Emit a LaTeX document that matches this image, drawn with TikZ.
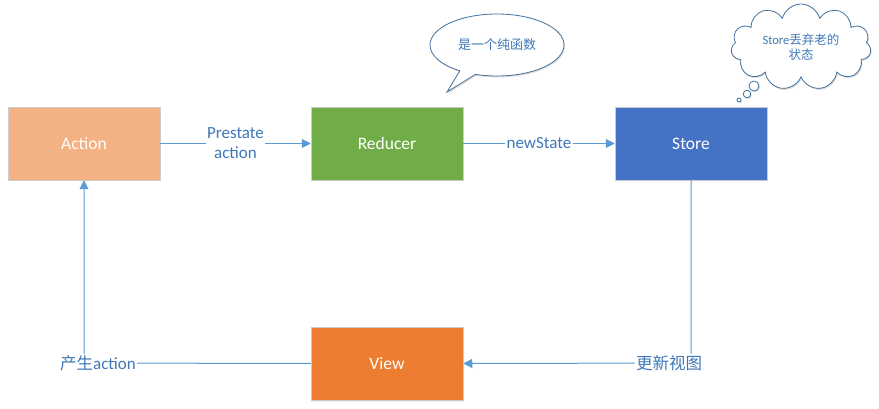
\documentclass[tikz,border=0pt]{standalone}
\usepackage{fontspec}
\setmainfont{Carlito}
\newfontfamily\cjk{Noto Sans CJK SC}
\usetikzlibrary{arrows.meta,shapes.callouts,shapes.symbols,shadows}
\definecolor{cAction}{HTML}{F4B183}
\definecolor{cReducer}{HTML}{70AD47}
\definecolor{cStore}{HTML}{4472C4}
\definecolor{cView}{HTML}{ED7D31}
\definecolor{lineblue}{HTML}{5B9BD5}
\definecolor{textblue}{HTML}{3E78B8}
\definecolor{bubbleline}{HTML}{41719C}
\tikzset{
  box/.style={minimum width=152pt,minimum height=73pt,inner sep=0pt,text=white,font=\fontsize{17.5}{20}\selectfont,draw=white!80!black,line width=0.5pt,drop shadow={shadow xshift=0pt,shadow yshift=-1.5pt,opacity=0.15}},
  conn/.style={draw=lineblue,line width=1pt},
  tip/.style={-{Triangle[width=9pt,length=9pt]}},
  lbl/.style={fill=white,text=textblue,inner sep=1.5pt,font=\fontsize{17}{20}\selectfont,align=center},
  cjklbl/.style={lbl,font=\cjk\fontsize{16.5}{19}\selectfont},
  bubstyle/.style={draw=bubbleline,line width=0.8pt,fill=white,text=textblue,drop shadow={shadow xshift=1pt,shadow yshift=-1.5pt,opacity=0.25}},
  bub/.style={bubstyle,font=\cjk\fontsize{13}{15}\selectfont}
}
\begin{document}
\begin{tikzpicture}[x=1pt,y=-1pt]
\useasboundingbox (0,0) rectangle (879,409);
\node[box,fill=cAction] (action) at (84,143.5) {Action};
\node[box,fill=cReducer] (reducer) at (387,143.5) {Reducer};
\node[box,fill=cStore] (store) at (691,143.5) {Store};
\node[box,fill=cView] (view) at (387,363.5) {View};

\draw[conn,tip] (action.east) -- node[lbl] (l1) {Prestate\\action} (reducer.west);
\draw[conn,tip] (reducer.east) -- node[lbl] (l2) {newState} (store.west);
\coordinate (c1) at (691,363);
\coordinate (c2) at (84,363);
\draw[conn,tip] (store.south) -- (c1) -- (view.east);
\draw[conn,tip] (view.west) -- (c2) -- (action.south);
\node[cjklbl] (l3) at (669,363) {更新视图};
\node[cjklbl] (l4) at (98,363) {产生\fontspec{Carlito}\fontsize{17}{19}\selectfont action};

\node[bub,ellipse callout,minimum width=134pt,minimum height=62pt,callout absolute pointer={(447,92)}] (b1) at (497,45) {是一个纯函数};
\node[bubstyle,cloud,cloud puffs=11,aspect=1.7,minimum width=140pt,minimum height=86pt,inner sep=0pt,align=center,font=\fontsize{12.5}{15}\selectfont] (b2) at (801,47) {Store{\cjk 丢弃老的}\\{\cjk 状态}};
\node[bubstyle,circle,minimum size=10pt,inner sep=0pt] (p1) at (754,86) {};
\node[bubstyle,circle,minimum size=7.5pt,inner sep=0pt] (p2) at (747,94) {};
\node[bubstyle,circle,minimum size=4pt,inner sep=0pt] (p3) at (739,100) {};
\end{tikzpicture}
\end{document}
